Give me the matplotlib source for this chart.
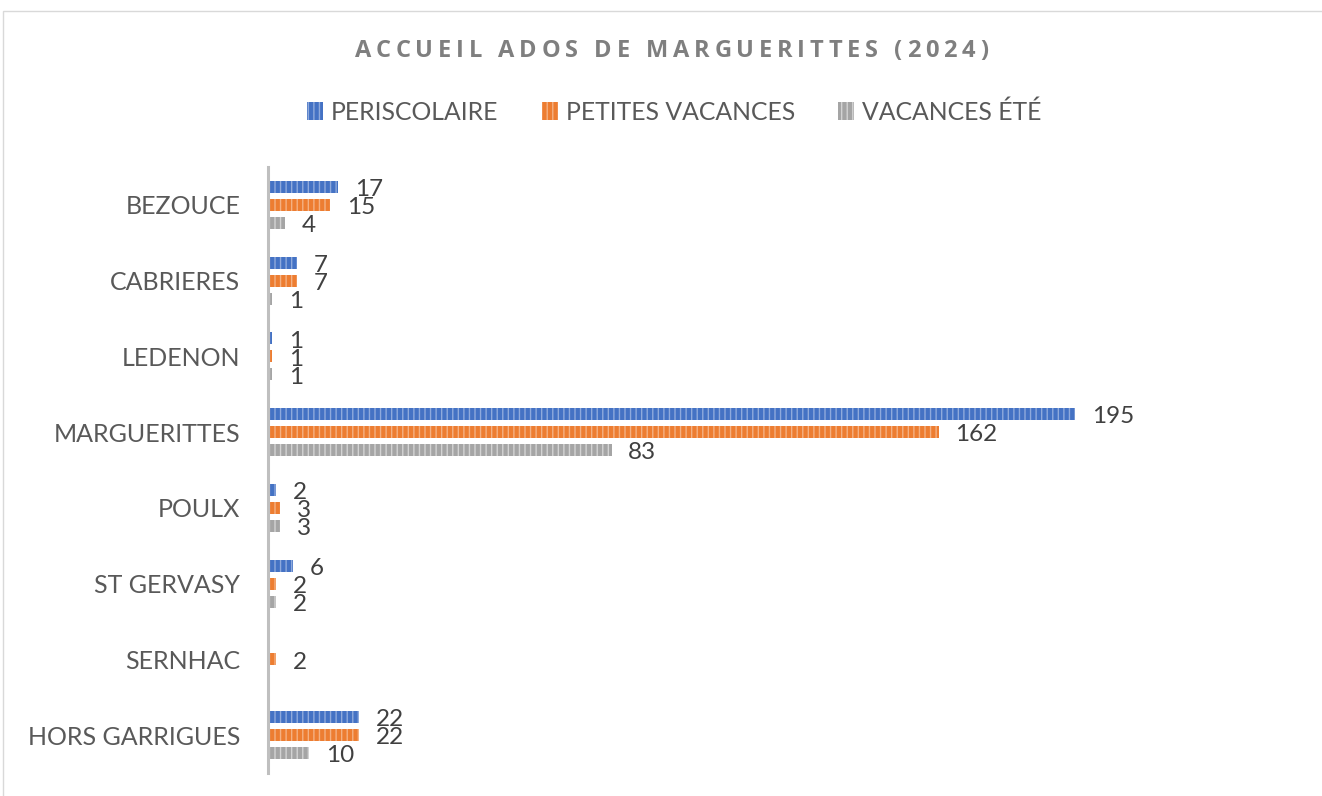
import numpy as np
import matplotlib
matplotlib.use("Agg")
import matplotlib.pyplot as plt
from matplotlib.patches import Rectangle, Patch

communes = ["BEZOUCE", "CABRIERES", "LEDENON", "MARGUERITTES", "POULX",
            "ST GERVASY", "SERNHAC", "HORS GARRIGUES"]
periscolaire = [17, 7, 1, 195, 2, 6, None, 22]
petites_vacances = [15, 7, 1, 162, 3, 2, 2, 22]
vacances_ete = [4, 1, 1, 83, 3, 2, None, 10]

series = [
    ("PERISCOLAIRE", periscolaire, "#4472C4", "#8FAADC"),
    ("PETITES VACANCES", petites_vacances, "#ED7D31", "#F4B183"),
    ("VACANCES ÉTÉ", vacances_ete, "#A5A5A5", "#D3D3D3"),
]

plt.rcParams["font.family"] = ["Lato", "DejaVu Sans"]
plt.rcParams["hatch.linewidth"] = 1.0
txt = "#595959"

W, H = 1322, 796
fig = plt.figure(figsize=(W / 100, H / 100), dpi=100)

# chart area border (runs off the page on the right and bottom)
fig.patches.append(Rectangle((3 / W, -0.1), 1.2, 1 - 11 / H + 0.1,
                             transform=fig.transFigure, fill=False,
                             edgecolor="#D9D9D9", linewidth=1))

ax = fig.add_axes([268 / W, 1 - 773 / H, 1035 / W, 606 / H])

y = np.arange(len(communes))
bh = 0.158
step = 0.237
for i, (name, vals, col, hcol) in enumerate(series):
    pos = y + (i - 1) * step
    w = [v if v is not None else 0 for v in vals]
    ax.barh(pos, w, height=bh, color=col, edgecolor=hcol, linewidth=0,
            hatch="|||", label=name)
    for p, v in zip(pos, vals):
        if v is None:
            continue
        ax.annotate(str(v), (v, p), xytext=(12, -2), textcoords="offset points",
                    va="center", ha="left", fontsize=17.5, color="#404040")

ax.set_xlim(0, 250)
ax.set_ylim(len(communes) - 0.5, -0.5)
ax.set_yticks(y)
ax.set_yticklabels(communes, fontsize=18, color=txt)
ax.tick_params(axis="y", length=0, pad=20)
ax.set_xticks([])
for s in ["top", "right", "bottom"]:
    ax.spines[s].set_visible(False)
ax.spines["left"].set_color("#BFBFBF")
ax.spines["left"].set_linewidth(2.2)

# legend
handles = [Patch(facecolor=c, edgecolor=h, hatch="|||", linewidth=0, label=n)
           for n, _, c, h in series]
fig.legend(handles=handles, loc="center", bbox_to_anchor=(0.51, 1 - 112 / H),
           ncol=3, frameon=False, fontsize=17.8, labelcolor=txt,
           handlelength=0.65, handleheight=0.73, handletextpad=0.32,
           columnspacing=1.75)

# title with wide letter spacing
title = "ACCUEIL ADOS DE MARGUERITTES (2024)"
renderer = fig.canvas.get_renderer()
chars = []
for ch in title:
    t = fig.text(0, 1 - 51 / H, ch, fontsize=17, fontweight="bold",
                 family=["Open Sans", "DejaVu Sans"], color="#7F7F7F",
                 va="center", ha="left")
    chars.append(t)
widths = []
for ch, t in zip(title, chars):
    if ch == " ":
        widths.append(7)
    else:
        widths.append(t.get_window_extent(renderer).width)
span = 633
extra = (span - sum(widths)) / (len(title) - 1)
x = 355
for t, wd in zip(chars, widths):
    t.set_x(x / W)
    x += wd + extra

fig.savefig("out.png", dpi=100)
